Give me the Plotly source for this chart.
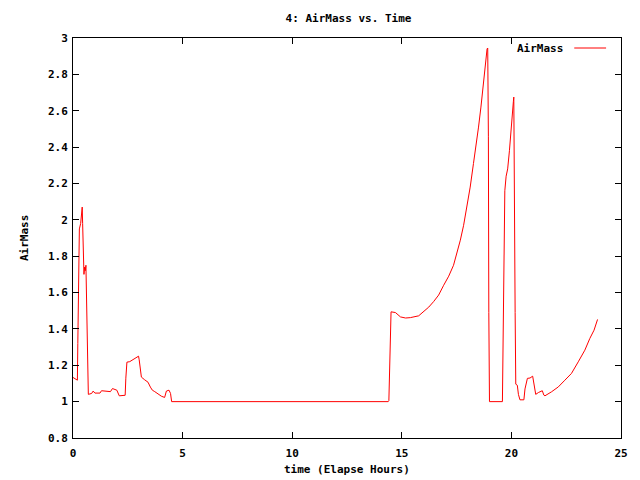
import plotly.graph_objects as go

# Elapsed time (hours) and air mass values
time_hours = [
    0.0, 0.2, 0.22, 0.25, 0.29, 0.35, 0.38, 0.42, 0.44, 0.47, 0.50, 0.53, 0.56, 0.59,
    0.62, 0.67, 0.70, 0.85, 0.92, 1.0, 1.23, 1.30, 1.46, 1.65, 1.71, 1.80, 1.91, 2.0,
    2.11, 2.32, 2.38, 2.41, 2.46, 2.59, 2.82, 2.99, 3.02, 3.08, 3.12, 3.27, 3.42, 3.53,
    3.62, 3.73, 3.88, 4.03, 4.18, 4.26, 4.38, 4.45, 4.50,
    14.38, 14.41, 14.44, 14.48, 14.51, 14.71, 14.94, 15.17, 15.39, 15.77, 16.0, 16.23,
    16.45, 16.68, 16.91, 17.14, 17.36, 17.52, 17.67, 17.82, 17.97, 18.12, 18.27, 18.38,
    18.5, 18.61, 18.7, 18.77, 18.85, 18.89, 18.92, 18.95, 18.97, 19.0,
    19.59, 19.61, 19.65, 19.7, 19.76, 19.83, 19.91, 19.97, 20.05, 20.09, 20.11, 20.12,
    20.17, 20.2, 20.27, 20.32, 20.39, 20.57, 20.62, 20.73, 20.85, 20.97, 21.03, 21.11,
    21.23, 21.41, 21.48, 21.53, 21.83, 22.14, 22.44, 22.74, 23.05, 23.35, 23.58, 23.77,
    23.93,
]
air_mass = [
    1.133, 1.118, 1.32, 1.73, 1.95, 1.98, 2.03, 2.07, 1.98, 1.79, 1.70, 1.74, 1.72, 1.75,
    1.57, 1.22, 1.04, 1.045, 1.058, 1.047, 1.047, 1.06, 1.058, 1.057, 1.055, 1.072, 1.068,
    1.063, 1.032, 1.032, 1.035, 1.129, 1.217, 1.22, 1.239, 1.25, 1.23, 1.164, 1.135, 1.12,
    1.107, 1.08, 1.063, 1.055, 1.041, 1.03, 1.023, 1.058, 1.063, 1.045, 1.0,
    1.0, 1.005, 1.13, 1.37, 1.494, 1.49, 1.466, 1.46, 1.462, 1.472, 1.494, 1.52,
    1.55, 1.586, 1.64, 1.69, 1.75, 1.815, 1.888, 1.97, 2.07, 2.18, 2.31, 2.40,
    2.51, 2.62, 2.73, 2.81, 2.88, 2.94, 2.945, 2.46, 1.49, 1.0,
    1.0, 1.29, 1.86, 2.16, 2.24, 2.28, 2.38, 2.49, 2.59, 2.65, 2.675, 2.28,
    1.49, 1.096, 1.09, 1.04, 1.01, 1.01, 1.07, 1.128, 1.13, 1.14, 1.095, 1.04,
    1.05, 1.06, 1.036, 1.032, 1.054, 1.081, 1.118, 1.155, 1.219, 1.283, 1.348, 1.393,
    1.452,
]

x_ticks = [0, 5, 10, 15, 20, 25]
y_ticks = [0.8, 1.0, 1.2, 1.4, 1.6, 1.8, 2.0, 2.2, 2.4, 2.6, 2.8, 3.0]
y_tick_labels = ["0.8", "1", "1.2", "1.4", "1.6", "1.8", "2", "2.2", "2.4", "2.6", "2.8", "3"]

FONT = "DejaVu Sans Mono"
F = dict(family=FONT, size=11, color="black", weight="bold")

fig = go.Figure()
fig.add_trace(go.Scatter(
    x=time_hours, y=air_mass, mode="lines", name="AirMass",
    line=dict(color="#ff0000", width=1), showlegend=False,
))

axis_common = dict(
    showline=True, linecolor="black", linewidth=1, mirror="allticks",
    ticks="inside", ticklen=6, tickcolor="black", showgrid=False, zeroline=False,
    tickfont=F,
)
fig.update_xaxes(range=[0, 25], tickvals=x_ticks, ticklabelstandoff=5, **axis_common)
fig.update_yaxes(range=[0.8, 3], tickvals=y_ticks, ticktext=y_tick_labels,
                 ticklabelstandoff=2, **axis_common)

fig.update_layout(
    width=640, height=480,
    margin=dict(l=73, r=16, t=38, b=42),
    paper_bgcolor="white", plot_bgcolor="white",
    font=F,
    title=dict(text="4: AirMass vs. Time", x=348.5 / 640, xanchor="center",
               y=1 - 18 / 480, yanchor="middle", font=F),
    annotations=[
        dict(text="time (Elapse Hours)", xref="paper", yref="paper", x=0.5, y=0,
             xanchor="center", yanchor="middle", yshift=-31, showarrow=False, font=F),
        dict(text="AirMass", xref="paper", yref="paper", x=0, y=0.5,
             xanchor="center", yanchor="middle", xshift=-49, textangle=-90,
             showarrow=False, font=F),
        dict(text="AirMass", xref="paper", yref="paper", x=(568 - 73) / 551, y=(438 - 48) / 400,
             xanchor="right", yanchor="middle", showarrow=False, font=F),
    ],
    shapes=[
        dict(type="line", xref="paper", yref="paper",
             x0=(577 - 73) / 551, x1=(609 - 73) / 551,
             y0=(438 - 48) / 400, y1=(438 - 48) / 400,
             line=dict(color="#ff0000", width=1)),
    ],
)

fig.write_html("out.html", config={"displayModeBar": False},
               post_script="document.body.style.margin='0';document.body.style.overflow='hidden';")
